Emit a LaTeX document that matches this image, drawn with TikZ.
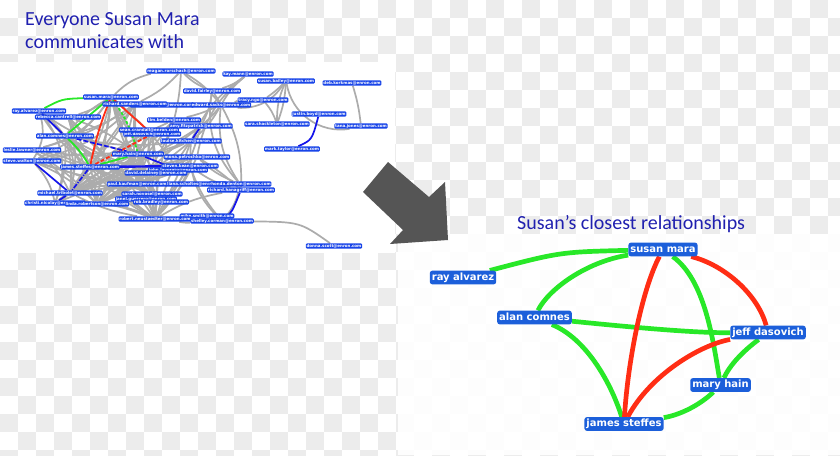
\documentclass[tikz,border=0pt]{standalone}
\usepackage{fontspec}
\newfontfamily\ttlfont{Carlito}
\newfontfamily\lblfont{DejaVu Sans}
\definecolor{ttl}{RGB}{32,32,175}
\definecolor{nodeL}{RGB}{24,68,232}
\definecolor{nodeR}{RGB}{28,95,218}
\definecolor{eg}{RGB}{40,232,40}
\definecolor{er}{RGB}{255,45,20}
\definecolor{eb}{RGB}{20,20,235}
\definecolor{gedge}{RGB}{172,172,172}
\definecolor{arrowc}{RGB}{85,85,85}
\definecolor{chk}{RGB}{236,236,236}
\pgfdeclarelayer{bg}
\pgfdeclarelayer{edges}
\pgfsetlayers{bg,edges,main}
\tikzset{
  ln/.style={fill=nodeL, rounded corners=1.2pt, text=white,
    font=\lblfont\bfseries\fontsize{4}{4}\selectfont,
    inner xsep=0.8pt, inner ysep=0.6pt, text height=3.2pt, text depth=0.9pt},
  rn/.style={fill=nodeR, rounded corners=2.5pt, text=white,
    font=\lblfont\bfseries\fontsize{10}{10}\selectfont,
    inner xsep=2pt, inner ysep=2pt, text height=7.5pt, text depth=2.2pt},
  ttlnode/.style={anchor=base west, inner sep=0pt, text=ttl,
    font=\ttlfont\fontsize{20}{24}\selectfont},
  ge/.style={draw=gedge, line width=1.7pt},
  lg/.style={draw=eg, line width=1.8pt},
  lr/.style={draw=er, line width=1.8pt},
  lb/.style={draw=eb, line width=1.7pt},
  rg/.style={draw=eg, line width=4.7pt},
  rr/.style={draw=er, line width=4.7pt},
}
\begin{document}
\begin{tikzpicture}[x=1pt,y=-1pt]
\useasboundingbox (0,0) rectangle (840,455);
\begin{pgfonlayer}{bg}
% transparency checkerboard
\begin{scope}
\clip (0,0) rectangle (840,455);
\foreach \i in {0,...,46}{\foreach \j in {0,...,25}{%
  \pgfmathtruncatemacro\chksum{\i+\j}%
  \ifodd\chksum \fill[chk] (\i*18,\j*18) rectangle ++(18,18);\fi}}
\end{scope}
% panels
\fill[white] (0,62) rectangle (395,253);
\fill[white, opacity=0.9] (398,234) rectangle (840,455);
% big arrow
\fill[arrowc] (388,162) -- (429,197) -- (445,182) -- (448,240) -- (390,244) -- (403,230) -- (363,192) -- cycle;
\end{pgfonlayer}

% titles
\node[ttlnode] (t1) at (25,25) {Everyone Susan Mara};
\node[ttlnode] (t2) at (25,48) {communicates with};
\node[ttlnode] (t3) at (517,229) {Susan’s closest relationships};

% ---------- left network nodes ----------
\foreach \n/\x/\y/\t in {
 reagan/181/71/reagan.rorschach@enron.com,
 kay/248/74/kay.mann@enron.com,
 bailey/286/81/susan.bailey@enron.com,
 deb/352/83/deb.korkmas@enron.com,
 fairley/212/91/david.fairley@enron.com,
 tracy/263/100/tracy.ngo@enron.com,
 hid1/162/105/elizabeth.sager@enron.com,
 sacks/221/105/edward.sacks@enron.com,
 susan/111/97/susan.mara@enron.com,
 rsand/135/104/richard.sanders@enron.com,
 ray/39/111/ray.alvarez@enron.com,
 rebecca/68/117/rebecca.cantrell@enron.com,
 justin/319/114/justin.boyd@enron.com,
 tim/174/120/tim.belden@enron.com,
 sara/277/124/sara.shackleton@enron.com,
 tana/361/126/tana.jones@enron.com,
 amy/201/126/amy.fitzpatrick@enron.com,
 jeff/152/134/jeff.dasovich@enron.com,
 sean/149/130/sean.crandall@enron.com,
 alan/65/136/alan.comnes@enron.com,
 louise/191/141/louise.kitchen@enron.com,
 mark/292/149/mark.taylor@enron.com,
 leslie/32/150/leslie.lawner@enron.com,
 mary/138/154/mary.hain@enron.com,
 mona/197/157/mona.petrochko@enron.com,
 steve/32/161/steve.walton@enron.com,
 james/90/167/james.steffes@enron.com,
 lavorato/178/170/john.lavorato@enron.com,
 kean/190/166/steven.kean@enron.com,
 delainey/156/173/david.delainey@enron.com,
 lana/196/184/diana.scholtes@enron.com,
 kaufman/137/184/paul.kaufman@enron.com,
 rhonda/240/184/rhonda.denton@enron.com,
 hanagriff/241/190/richard.hanagriff@enron.com,
 tribolet/70/193/michael.tribolet@enron.com,
 sarah/152/194/sarah.novosel@enron.com,
 janel/146/199/janel.guerrero@enron.com,
 bradley/161/202/rob.bradley@enron.com,
 christi/55/203/christi.nicolay@enron.com,
 linda/97/204/linda.robertson@enron.com,
 hid4/207/216/mike.smith@enron.com,
 neust/155/219/robert.neustaedter@enron.com,
 shelley/222/221/shelley.corman@enron.com,
 donna/334/246/donna.scott@enron.com}
 {\node[ln] (L\n) at (\x,\y) {\t};}

% ---------- right network nodes ----------
\node[rn] (sm) at (663,249.5) {susan mara};
\node[rn] (ra) at (463,277.5) {ray alvarez};
\node[rn] (ac) at (534.5,317.5) {alan comnes};
\node[rn] (jd) at (768,332.5) {jeff dasovich};
\node[rn] (mh) at (720.5,385) {mary hain};
\node[rn] (js) at (624,424) {james steffes};

\begin{pgfonlayer}{edges}
% gray edges (left)
\foreach \a/\b/\c in {
 susan/rebecca/10, susan/alan/-10, susan/leslie/20, susan/steve/15, susan/kaufman/5,
 susan/sarah/-10, susan/linda/0, susan/delainey/-5, susan/tribolet/10, susan/bradley/-8,
 susan/neust/12, susan/christi/25, susan/lavorato/8,
 rsand/alan/10, rsand/james/5, rsand/kaufman/-5, rsand/neust/-10, rsand/linda/8,
 rsand/tribolet/0, rsand/reagan/-10, rsand/steve/15, rsand/leslie/10,
 ray/steve/25, ray/tribolet/35, ray/james/-10, ray/mary/-10, ray/christi/30, ray/linda/15,
 rebecca/james/5, rebecca/kaufman/-5, rebecca/mary/8, rebecca/linda/0, rebecca/tribolet/15,
 rebecca/neust/5, rebecca/sarah/-5,
 alan/kaufman/0, alan/sarah/-5, alan/louise/-8, alan/tribolet/10, alan/linda/5,
 alan/neust/-5, alan/bradley/0, alan/christi/12, alan/delainey/-6,
 leslie/james/5, leslie/mary/-5, leslie/kaufman/0, leslie/tribolet/15, leslie/linda/8,
 steve/kaufman/-5, steve/mary/5, steve/linda/10, steve/christi/15, steve/neust/10,
 james/kaufman/0, james/sarah/-5, james/bradley/5, james/neust/-10, james/louise/-8,
 james/tim/5, james/linda/5, james/christi/8, james/tribolet/-10, james/mona/-6,
 mary/kaufman/5, mary/bradley/-5, mary/neust/10, mary/tribolet/-8, mary/linda/5, mary/sean/0,
 mary/christi/10,
 sean/kaufman/-5, sean/tribolet/5, sean/james/0, sean/linda/10, sean/neust/-6,
 jeff/kaufman/5, jeff/linda/-5, jeff/neust/8, jeff/sarah/5, jeff/tribolet/-10,
 tim/kaufman/10, tim/neust/-8, tim/linda/5, tim/tribolet/10,
 amy/neust/10, amy/kaufman/-5, amy/tribolet/5,
 louise/linda/5, louise/bradley/-10, louise/neust/5, louise/tribolet/-5,
 mona/tribolet/-5, mona/neust/8, mona/kaufman/5, mona/linda/-8,
 kean/linda/-5, kean/neust/10, kean/bradley/5, kean/tribolet/8,
 lavorato/tribolet/5, delainey/tribolet/-5, delainey/neust/5, delainey/linda/6,
 kaufman/neust/5, sarah/neust/-5, bradley/neust/5, linda/neust/8, tribolet/neust/-8,
 christi/neust/10, tribolet/christi/10, kaufman/linda/5, kaufman/tribolet/-5,
 reagan/fairley/-10, reagan/sacks/10, reagan/tim/5, reagan/susan/-15,
 kay/fairley/10, kay/sacks/-10, kay/mona/-20, kay/louise/-15,
 fairley/sacks/5, fairley/amy/10, fairley/rhonda/-25,
 bailey/sara/8, bailey/sara/-12, bailey/tana/-45, bailey/sacks/30, bailey/tracy/5,
 tracy/sara/10, tracy/sacks/-5, deb/tana/5,
 sacks/rhonda/-20, sacks/louise/10, sacks/amy/5, sacks/tim/5, sacks/hanagriff/15,
 rhonda/shelley/15, hanagriff/neust/-10, hanagriff/kean/10, lana/rhonda/0,
 mona/rhonda/-10, kean/shelley/-10, neust/shelley/-5, louise/shelley/-25, mona/hanagriff/5}
 {\draw[ge] (L\a) to[bend left=\c] (L\b);}
\draw[ge] (Lshelley) .. controls (300,222) .. (Ldonna);

% coloured edges (left)
\draw[lg] (Lsusan) .. controls (62,99) .. (Lray);
\draw[lg] (Lsusan) -- (Lalan);
\draw[lg] (Lalan) to[bend left=8] (Ljames);
\draw[lg, dash pattern=on 3pt off 2pt] (Lsusan) to[bend left=10] (Lmary);
\draw[lg] (Lmary) -- (Ljames);
\draw[lr] (Lsusan) to[bend right=5] (Ljames);
\draw[lr] (Lsusan) -- (Ljeff);
\draw[lr, dash pattern=on 4pt off 2pt] (Ljeff) -- (Ljames);
\draw[lb] (Lray) -- (Lalan);
\draw[lb, dash pattern=on 5pt off 2pt] (Lalan) -- (Lmary);
\draw[lb, line width=2.4pt] (Ljames) -- (Lkean);
\draw[lb] (Lmary) -- (Llavorato);
\draw[lb, dash pattern=on 5pt off 1.5pt on 1pt off 1.5pt] (Ljames) -- (Ltribolet);
\draw[lb] (Lsteve) -- (Ltribolet);
\draw[lb] (Ltribolet) -- (Lchristi);
\draw[lb] (Lamy) -- (Llouise);
\draw[lb] (Ljustin) .. controls (312,140) .. (Lmark);
\draw[lb] (Lhanagriff) .. controls (232,212) .. (Lshelley);

% right edges
\draw[rg] (sm) .. controls (560,252) .. (ra);
\draw[rg] (sm) .. controls (585,262) and (548,290) .. (ac);
\draw[rg] (sm) .. controls (705,280) and (713,340) .. (mh);
\draw[rg] (ac) .. controls (620,326) and (690,333) .. (jd);
\draw[rg] (ac) .. controls (585,338) and (610,380) .. (js);
\draw[rg] (jd) .. controls (742,352) and (730,365) .. (mh);
\draw[rg] (mh) .. controls (700,405) and (680,415) .. (js);
\draw[rr] (sm) .. controls (642,290) and (628,360) .. (js);
\draw[rr] (sm) .. controls (725,265) and (758,295) .. (jd);
\draw[rr] (jd) .. controls (700,345) and (650,375) .. (js);
\end{pgfonlayer}
\end{tikzpicture}
\end{document}
